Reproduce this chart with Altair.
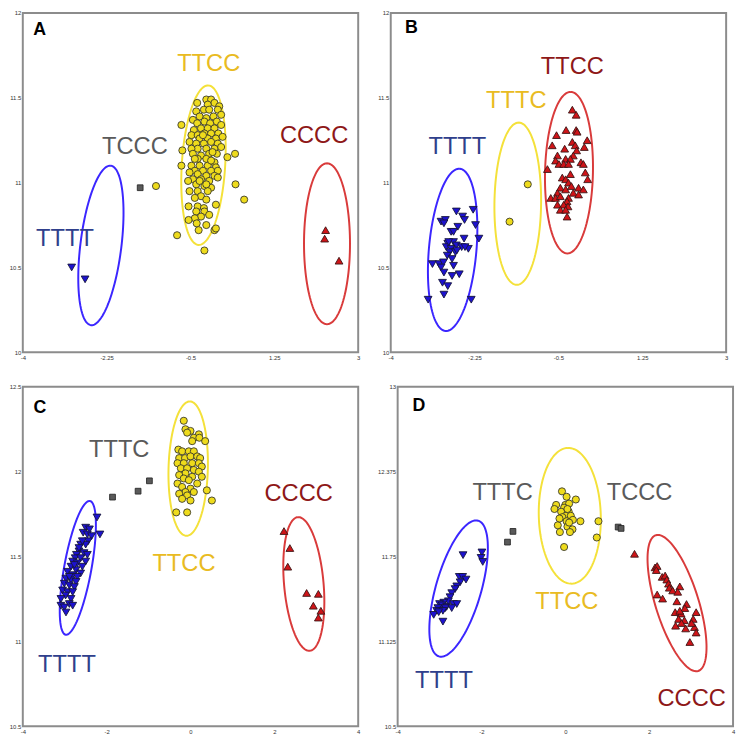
import math
import numpy as np
import pandas as pd
import altair as alt

# ---------------- Panel A ----------------
A_TTTT_x = [-2.98, -2.70]
A_TTTT_y = [10.50, 10.43]
A_TCCC_x = [-1.55]
A_TCCC_y = [10.97]
A_TTCC_x = [-0.36,-0.17,-0.07,0.00,0.10,-0.14,-0.38,-0.22,-0.11,0.07,
            -0.31,-0.17,-0.02,0.14,-0.45,-0.69,-0.36,-0.21,-0.09,0.05,
            -0.28,-0.14,0.00,0.14,-0.43,-0.48,-0.35,-0.21,-0.07,0.08,
            -0.31,-0.14,0.03,0.17,-0.52,-0.38,-0.22,-0.07,0.07,-0.35,
            -0.17,0.00,0.14,-0.48,-0.67,-0.45,-0.28,-0.11,0.05,0.27,
            0.43,-0.35,-0.17,0.00,-0.69,-0.48,-0.31,-0.14,0.03,-0.41,
            -0.24,-0.07,0.07,-0.52,-0.35,-0.17,0.00,-0.45,-0.28,-0.11,
            -0.55,0.07,0.44,-0.38,-0.21,-0.07,-0.52,-0.35,-0.14,-0.28,
            -0.41,-0.17,0.03,0.62,-0.54,-0.35,-0.22,-0.38,-0.21,-0.11,
            -0.28,-0.41,-0.54,-0.37,-0.17,0.00,0.03,-0.33,-0.78,-0.21,
            -1.22,-0.41,-0.07,-0.24,-0.04,-0.31,-0.17]
A_TTCC_y = [11.47,11.49,11.49,11.47,11.45,11.46,11.42,11.43,11.43,11.43,
            11.39,11.38,11.39,11.40,11.37,11.34,11.35,11.36,11.35,11.36,
            11.32,11.32,11.32,11.34,11.31,11.28,11.28,11.29,11.29,11.29,
            11.26,11.26,11.26,11.27,11.24,11.23,11.23,11.24,11.23,11.20,
            11.20,11.20,11.21,11.20,11.19,11.17,11.16,11.17,11.17,11.15,
            11.17,11.14,11.14,11.12,11.10,11.10,11.10,11.10,11.09,11.07,
            11.07,11.07,11.07,11.06,11.05,11.04,11.04,11.02,11.02,11.01,
            11.01,11.03,10.99,10.99,10.98,10.97,10.95,10.95,10.95,10.92,
            10.91,10.90,10.87,10.90,10.86,10.86,10.85,10.83,10.83,10.81,
            10.80,10.79,10.78,10.76,10.75,10.72,10.73,10.72,10.69,10.60,
            10.98,11.14,11.13,11.28,11.18,11.01,10.99]
A_CCCC_x = [2.32, 2.30, 2.60]
A_CCCC_y = [10.72, 10.67, 10.54]
# ellipse: centre x, centre y, major vector (dx, dy), minor vector (dx, dy)
A_ELLIPSES = [[-2.37, 10.63, 0.206, 0.470, 0.425, -0.014],
              [-0.229, 11.103, 0.103, 0.470, 0.452, -0.008],
              [2.349, 10.64, 0.0, 0.474, 0.48, 0.0]]
A_LABELS = ["TTTT", "TCCC", "TTCC", "CCCC"]
A_LABEL_X = [-3.12, -1.66, -0.12, 2.08]
A_LABEL_Y = [10.67, 11.21, 11.70, 11.275]

# ---------------- Panel B ----------------
B_TTTT_x = [-2.63,-2.28,-2.50,-2.46,-2.95,-2.86,-2.89,-2.23,-2.60,-2.74,
            -2.69,-2.16,-2.47,-2.81,-2.69,-2.63,-2.84,-2.74,-2.52,-2.38,
            -2.45,-2.77,-2.65,-2.82,-2.72,-3.13,-2.99,-2.90,-2.95,-2.69,
            -2.89,-2.57,-2.72,-2.92,-2.81,-2.89,-3.22,-2.32,-2.79,-2.62]
B_TTTT_y = [10.83,10.84,10.80,10.78,10.77,10.78,10.76,10.75,10.74,10.71,
            10.71,10.67,10.67,10.64,10.65,10.63,10.62,10.61,10.62,10.61,
            10.62,10.59,10.59,10.57,10.55,10.52,10.52,10.53,10.50,10.51,
            10.47,10.46,10.45,10.41,10.39,10.34,10.31,10.31,10.65,10.60]
B_TTTC_x = [-1.14, -1.52]
B_TTTC_y = [10.99, 10.77]
B_TTCC_x = [-0.21,-0.13,-0.54,-0.34,-0.13,-0.11,0.10,-0.63,-0.37,-0.21,
            -0.15,0.04,-0.12,-0.52,-0.19,-0.35,-0.25,-0.56,-0.03,0.02,
            -0.49,-0.39,-0.29,-0.73,0.06,-0.25,-0.42,-0.35,-0.29,0.11,
            -0.46,-0.35,-0.23,-0.08,0.02,-0.52,-0.19,-0.08,-0.66,-0.56,
            -0.46,-0.29,-0.32,-0.52,-0.39,-0.30,-0.46,-0.35,-0.32]
B_TTCC_y = [11.43,11.40,11.28,11.31,11.31,11.30,11.25,11.22,11.20,11.24,
            11.22,11.21,11.19,11.16,11.16,11.14,11.14,11.13,11.12,11.11,
            11.11,11.11,11.11,11.08,11.06,11.05,11.03,11.02,11.00,11.02,
            10.97,10.96,10.98,10.97,10.96,10.94,10.94,10.93,10.91,10.91,
            10.92,10.91,10.89,10.87,10.87,10.86,10.84,10.84,10.80]
B_ELLIPSES = [[-2.708, 10.604, 0.149, 0.478, 0.494, -0.012],
              [-1.349, 10.876, 0.020, 0.478, 0.487, 0.0],
              [-0.28, 11.059, 0.034, 0.476, 0.50, 0.0]]
B_LABELS = ["TTTT", "TTTC", "TTCC"]
B_LABEL_X = [-2.61, -1.38, -0.21]
B_LABEL_Y = [11.21, 11.48, 11.68]

# ---------------- Panel C ----------------
C_TTTT_x = [-2.23,-2.16,-2.50,-2.41,-2.56,-2.46,-2.36,-2.44,-2.50,-2.62,
            -2.66,-2.54,-2.46,-2.72,-2.75,-2.62,-2.50,-2.81,-2.70,-2.58,
            -2.85,-2.73,-2.62,-2.93,-2.81,-2.70,-2.97,-2.85,-2.73,-3.01,
            -2.89,-2.77,-3.05,-2.93,-2.81,-2.98,-3.09,-2.85,-2.89,-3.09,
            -3.01,-2.81,-2.97,-2.66,-2.58,-2.77,-2.89]
C_TTTT_y = [11.73,11.63,11.67,11.66,11.64,11.63,11.62,11.59,11.57,11.57,
            11.53,11.52,11.51,11.51,11.49,11.49,11.47,11.47,11.46,11.44,
            11.44,11.42,11.40,11.41,11.39,11.38,11.37,11.36,11.35,11.34,
            11.33,11.32,11.30,11.29,11.29,11.27,11.25,11.25,11.22,11.21,
            11.20,11.21,11.17,11.55,11.59,11.45,11.38]
C_TTTC_x = [-1.86, -1.25, -0.98]
C_TTTC_y = [11.85, 11.885, 11.946]
C_TTCC_x = [-0.16,-0.12,0.00,-0.08,0.20,0.08,0.21,0.35,0.04,-0.29,
            -0.20,-0.04,0.08,-0.27,-0.13,0.00,0.16,0.23,-0.31,-0.16,
            0.04,0.20,0.27,-0.23,-0.08,0.08,-0.12,0.20,-0.27,0.04,
            0.27,-0.16,-0.04,-0.31,0.16,-0.20,0.00,-0.12,0.08,0.39,
            -0.27,-0.08,-0.20,0.00,0.51,-0.34,-0.08]
C_TTCC_y = [12.30,12.25,12.24,12.23,12.22,12.20,12.20,12.18,12.18,12.13,
            12.12,12.12,12.12,12.08,12.08,12.09,12.09,12.08,12.05,12.05,
            12.05,12.05,12.03,12.02,12.02,12.01,11.99,12.00,11.98,11.97,
            11.97,11.96,11.95,11.93,11.93,11.91,11.90,11.88,11.88,11.89,
            11.87,11.86,11.84,11.83,11.83,11.76,11.76]
C_CCCC_x = [2.23, 2.37, 2.32, 2.77, 3.05, 2.93, 3.11, 3.05]
C_CCCC_y = [11.65, 11.55, 11.44, 11.285, 11.28, 11.21, 11.18, 11.14]
C_ELLIPSES = [[-2.6875, 11.433, 0.289, 0.394, 0.32, -0.014],
              [-0.055, 12.018, 0.039, 0.396, 0.469, 0.0],
              [2.703, 11.338, -0.141, 0.394, 0.469, 0.010]]
C_LABELS = ["TTTT", "TTTC", "TTCC", "CCCC"]
C_LABEL_X = [-2.945, -1.70, -0.156, 2.58]
C_LABEL_Y = [10.86, 12.127, 11.456, 11.866]

# ---------------- Panel D ----------------
D_TTTT_x = [-2.44,-1.99,-2.01,-1.97,-2.53,-2.45,-2.37,-2.51,-2.59,-2.63,
            -2.71,-2.75,-2.79,-2.90,-3.00,-2.94,-2.83,-2.67,-2.59,-3.04,
            -2.86,-2.71,-3.07,-2.92,-3.14,-3.02,-2.92]
D_TTTT_y = [11.76,11.78,11.74,11.71,11.60,11.60,11.58,11.56,11.53,11.51,
            11.48,11.45,11.42,11.41,11.40,11.39,11.38,11.40,11.40,11.37,
            11.37,11.37,11.35,11.35,11.32,11.34,11.27]
D_TTTC_x = [-1.38, -1.25]
D_TTTC_y = [11.856, 11.935]
D_TTCC_x = [-0.08,0.03,0.25,-0.22,0.00,0.09,-0.03,-0.26,-0.10,0.08,
            0.01,0.13,-0.07,0.03,0.18,0.36,0.79,-0.18,0.05,0.17,
            -0.13,0.11,0.75,-0.03,0.05,-0.14,0.09]
D_TTCC_y = [12.23,12.19,12.17,12.13,12.13,12.14,12.11,12.10,12.08,12.08,
            12.05,12.05,12.04,12.01,12.02,12.01,12.01,11.98,11.97,11.95,
            11.93,11.93,11.89,11.82,12.10,12.03,12.00]
D_TCCC_x = [1.26, 1.33]
D_TCCC_y = [11.967, 11.957]
D_CCCC_x = [1.65,2.14,2.19,2.17,2.31,2.38,2.42,2.46,2.48,2.56,
            2.73,2.68,2.66,2.19,2.32,2.89,2.85,2.62,2.76,3.12,
            2.70,2.84,3.05,2.63,2.77,2.87,3.08,3.12,2.97,2.73,3.01]
D_CCCC_y = [11.77,11.67,11.68,11.65,11.60,11.61,11.58,11.55,11.52,11.50,
            11.53,11.49,11.42,11.47,11.44,11.40,11.37,11.34,11.33,11.34,
            11.29,11.28,11.29,11.24,11.26,11.22,11.23,11.19,11.12,11.35,11.26]
D_ELLIPSES = [[-2.546, 11.514, 0.467, 0.500, 0.519, -0.046],
              [0.106, 12.05, -0.047, 0.50, 0.739, 0.007],
              [2.664, 11.407, -0.505, 0.50, 0.490, 0.047]]
D_LABELS = ["TTTT", "TTTC", "TTCC", "TCCC", "CCCC"]
D_LABEL_X = [-2.896, -1.496, 0.036, 1.77, 3.014]
D_LABEL_Y = [10.835, 12.22, 11.414, 12.22, 10.696]

PANEL_LETTERS = ["A", "B", "C", "D"]
LETTER_X = [-3.65, -3.57, -3.59, -3.49]
LETTER_Y = [11.90, 11.91, 12.376, 12.86]

AB_XTICKS = [-4, -2.25, -0.5, 1.25, 3]
AB_YTICKS = [10, 10.5, 11, 11.5, 12]
C_XTICKS = [-4, -2, 0, 2, 4]
C_YTICKS = [10.5, 11, 11.5, 12, 12.5]
D_XTICKS = [-4, -2, 0, 2, 4]
D_YTICKS = [10.5, 11.125, 11.75, 12.375, 13]

# ---------------- styles ----------------
MARK = {
    "blue":   dict(shape="triangle-down", fill="#1d12cf", stroke="#15153a", size=62),
    "yellow": dict(shape="circle", fill="#eedb1c", stroke="#3a3a2a", size=52),
    "red":    dict(shape="triangle-up", fill="#cf1418", stroke="#3a1515", size=62),
    "gray":   dict(shape="square", fill="#5a5a5a", stroke="#2a2a2a", size=34),
}
ELLIPSE_COL = {"blue": "#3b26ff", "yellow": "#f4e13a", "red": "#d93b3b"}
LABEL_COL = {"blue": "#2f3f8c", "yellow": "#e9bb22", "red": "#8e1818", "gray": "#5a5a5a"}
W, H = 340, 344


def panel(letter_i, xdom, ydom, xticks, yticks, series, ellipses, label_info):
    xs = alt.Scale(domain=xdom, nice=False, zero=False)
    ys = alt.Scale(domain=ydom, nice=False, zero=False)
    common = dict(title=None, grid=False, ticks=False, domain=False, labelFontSize=6,
                  labelColor="#333333", labelFlush=False, labelOverlap=False,
                  labelExpr="'' + datum.value", labelFont="Liberation Sans")
    xax = alt.Axis(values=xticks, labelPadding=2, minExtent=10, maxExtent=10, **common)
    yax = alt.Axis(values=yticks, labelPadding=2, minExtent=14, maxExtent=14, **common)
    X = lambda: alt.X("x:Q", scale=xs, axis=xax)
    Y = lambda: alt.Y("y:Q", scale=ys, axis=yax)
    layers = []
    t = np.linspace(0, 2 * math.pi, 121)
    for (cx, cy, ax_, ay_, bx_, by_), key in ellipses:
        df = pd.DataFrame({"x": cx + ax_ * np.cos(t) + bx_ * np.sin(t),
                           "y": cy + ay_ * np.cos(t) + by_ * np.sin(t),
                           "i": np.arange(len(t))})
        layers.append(alt.Chart(df).mark_line(color=ELLIPSE_COL[key], strokeWidth=2)
                      .encode(x=X(), y=Y(), order="i:Q"))
    for xv, yv, key in series:
        m = MARK[key]
        df = pd.DataFrame({"x": xv, "y": yv})
        layers.append(alt.Chart(df).mark_point(shape=m["shape"], filled=True, fill=m["fill"],
                                               stroke=m["stroke"], strokeWidth=0.9,
                                               size=m["size"], opacity=1)
                      .encode(x=X(), y=Y()))
    texts, lx, ly, keys = label_info
    df = pd.DataFrame({"x": lx, "y": ly, "t": texts, "k": keys})
    for k in sorted(set(keys)):
        layers.append(alt.Chart(df[df.k == k]).mark_text(font="Liberation Sans", fontSize=24,
                                                         color=LABEL_COL[k])
                      .encode(x=X(), y=Y(), text="t:N"))
    dfl = pd.DataFrame({"x": [LETTER_X[letter_i]], "y": [LETTER_Y[letter_i]],
                        "t": [PANEL_LETTERS[letter_i]]})
    layers.append(alt.Chart(dfl).mark_text(font="Liberation Sans", fontSize=18,
                                           fontWeight="bold", color="black")
                  .encode(x=X(), y=Y(), text="t:N"))
    return alt.layer(*layers).properties(width=W, height=H)


pA = panel(0, [-4, 3], [10, 12], AB_XTICKS, AB_YTICKS,
           [(A_TTTT_x, A_TTTT_y, "blue"), (A_TCCC_x, A_TCCC_y, "gray"),
            (A_TTCC_x, A_TTCC_y, "yellow"), (A_CCCC_x, A_CCCC_y, "red")],
           list(zip(A_ELLIPSES, ["blue", "yellow", "red"])),
           (A_LABELS, A_LABEL_X, A_LABEL_Y, ["blue", "gray", "yellow", "red"]))
pB = panel(1, [-4, 3], [10, 12], AB_XTICKS, AB_YTICKS,
           [(B_TTTT_x, B_TTTT_y, "blue"), (B_TTTC_x, B_TTTC_y, "yellow"),
            (B_TTCC_x, B_TTCC_y, "red")],
           list(zip(B_ELLIPSES, ["blue", "yellow", "red"])),
           (B_LABELS, B_LABEL_X, B_LABEL_Y, ["blue", "yellow", "red"]))
pC = panel(2, [-4, 4], [10.5, 12.5], C_XTICKS, C_YTICKS,
           [(C_TTTT_x, C_TTTT_y, "blue"), (C_TTTC_x, C_TTTC_y, "gray"),
            (C_TTCC_x, C_TTCC_y, "yellow"), (C_CCCC_x, C_CCCC_y, "red")],
           list(zip(C_ELLIPSES, ["blue", "yellow", "red"])),
           (C_LABELS, C_LABEL_X, C_LABEL_Y, ["blue", "gray", "yellow", "red"]))
pD = panel(3, [-4, 4], [10.5, 13], D_XTICKS, D_YTICKS,
           [(D_TTTT_x, D_TTTT_y, "blue"), (D_TTTC_x, D_TTTC_y, "gray"),
            (D_TCCC_x, D_TCCC_y, "gray"), (D_TTCC_x, D_TTCC_y, "yellow"),
            (D_CCCC_x, D_CCCC_y, "red")],
           list(zip(D_ELLIPSES, ["blue", "yellow", "red"])),
           (D_LABELS, D_LABEL_X, D_LABEL_Y, ["blue", "gray", "yellow", "gray", "red"]))

chart = alt.vconcat(
    alt.hconcat(pA, pB, spacing=15),
    alt.hconcat(pC, pD, spacing=15),
    spacing=20,
).properties(
    padding={"top": -4, "left": 0, "right": 0, "bottom": 0},
    background="white",
).configure_view(stroke="#8c8c8c", strokeWidth=2)

chart.save("out.html", embed_options={"renderer": "svg", "actions": False})
